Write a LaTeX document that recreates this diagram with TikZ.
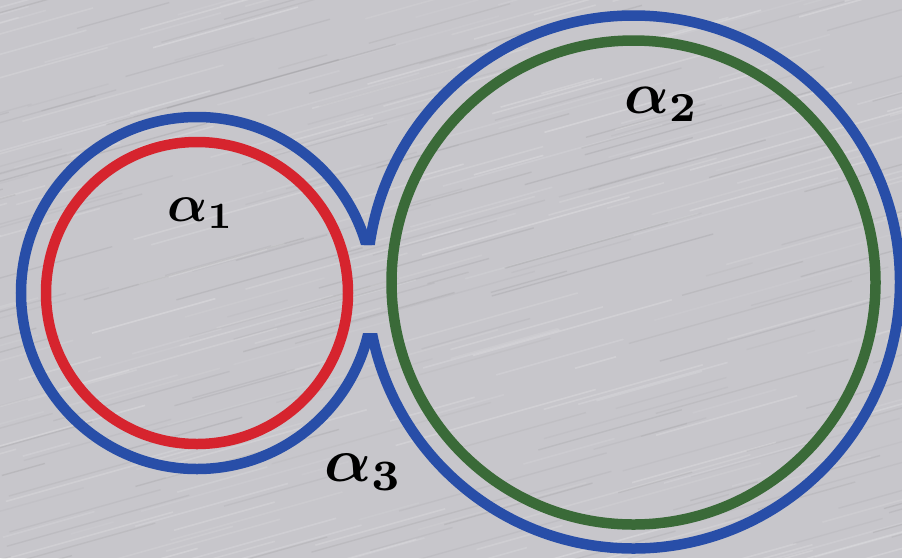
\documentclass[tikz,border=0pt]{standalone}
\usepackage{graphicx}
\usepackage{tikz}
\definecolor{bgc}{RGB}{199,198,203}
\definecolor{ringblue}{RGB}{40,78,168}
\definecolor{ringred}{RGB}{214,36,46}
\definecolor{ringgreen}{RGB}{58,106,56}
\tikzset{
  ring/.style={line width=10.5pt},
  lab/.style={inner sep=0pt, anchor=base west, font=\boldmath},
}
\begin{document}
\begin{tikzpicture}[x=1pt,y=-1pt]
\useasboundingbox (0,0) rectangle (902,558);
\begin{scope}
\clip (0,0) rectangle (902,558);
\fill[bgc] (0,0) rectangle (902,558);
\pgfmathsetseed{11}
\foreach \i in {1,...,260}{
  \pgfmathsetmacro\xa{rnd*1100-200}
  \pgfmathsetmacro\ya{rnd*760}
  \pgfmathsetmacro\len{40+rnd*200}
  \pgfmathsetmacro\op{0.06+0.16*rnd}
  \draw[white, opacity=\op, line width=1.6pt] (\xa,\ya) -- ++(\len,-0.28*\len);
}
\foreach \i in {1,...,200}{
  \pgfmathsetmacro\xa{rnd*1100-200}
  \pgfmathsetmacro\ya{rnd*760}
  \pgfmathsetmacro\len{40+rnd*200}
  \pgfmathsetmacro\op{0.04+0.10*rnd}
  \draw[black!60, opacity=\op, line width=1.4pt] (\xa,\ya) -- ++(\len,-0.28*\len);
}
\end{scope}
% outer blue boundary, cut at the neck
\begin{scope}
\clip (0,0) -- (902,0) -- (902,558) -- (0,558) -- cycle
      (356,245) -- (356,333) -- (386,333) -- (386,245) -- cycle;
\draw[ring, ringblue] (197,293) circle[radius=176pt];
\draw[ring, ringblue] (633.5,282) circle[radius=266.5pt];
\end{scope}
\draw[ring, ringred] (197,293) circle[radius=151pt];
\draw[ring, ringgreen] (633.5,282.5) circle[radius=242pt];
\node[lab] (a1) at (167,221) {\scalebox{5.3}{$\alpha_1$}};
\node[lab] (a2) at (624,113) {\scalebox{5.9}{$\alpha_2$}};
\node[lab] (a3) at (324,481) {\scalebox{6.2}{$\alpha_3$}};
\end{tikzpicture}
\end{document}
